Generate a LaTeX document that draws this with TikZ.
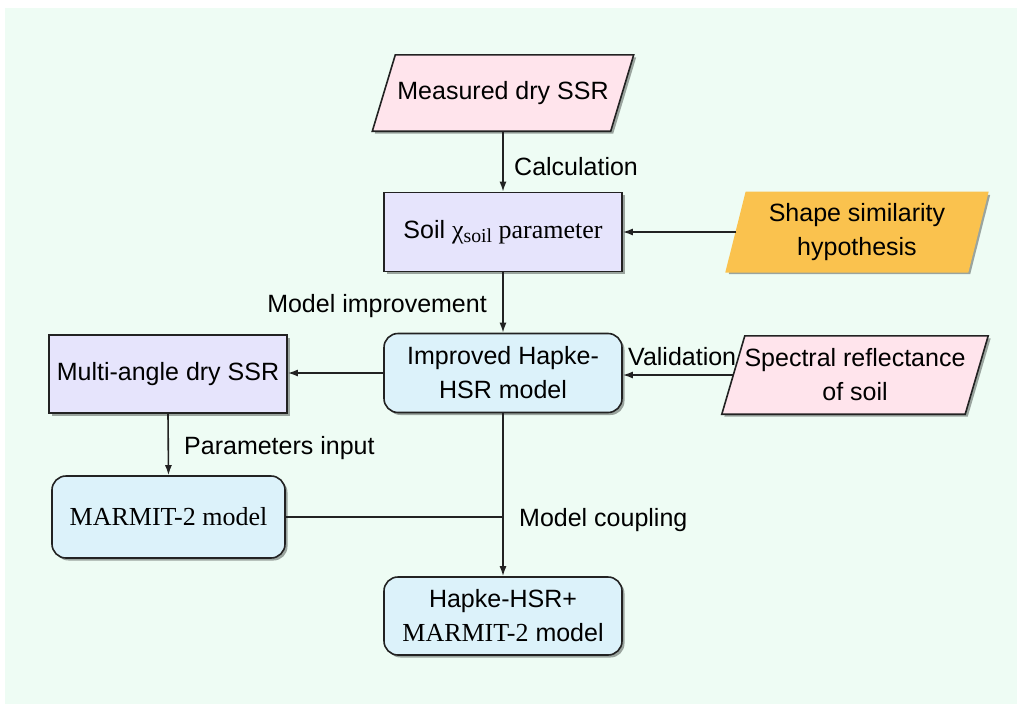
\documentclass[tikz,border=0pt]{standalone}
\usepackage{fontspec}
\setmainfont{Liberation Sans}
\newfontfamily\tnr{Liberation Serif}[Scale=1.04]
\usetikzlibrary{arrows.meta,shadows,calc}
\pgfdeclarelayer{bg}
\pgfdeclarelayer{back}
\pgfsetlayers{bg,back,main}
\definecolor{mint}{RGB}{238,252,244}
\definecolor{pinkf}{RGB}{255,228,236}
\definecolor{lav}{RGB}{230,228,252}
\definecolor{lblue}{RGB}{220,242,250}
\definecolor{orangef}{RGB}{250,194,78}
\definecolor{linec}{RGB}{34,34,34}
\tikzset{
  shad/.style={drop shadow={shadow xshift=2.5pt,shadow yshift=-2.5pt,opacity=0.35,fill=black}},
  box/.style={draw=linec, line width=1.6pt, minimum width=238pt, minimum height=79pt, inner sep=0pt, align=center, shad},
  sqbox/.style={box, fill=lav},
  rbox/.style={box, fill=lblue, rounded corners=14pt},
  pnode/.style={inner sep=0pt, align=center},
  lbl/.style={inner sep=0pt},
  arr/.style={line width=1.6pt, draw=linec, -{Latex[length=10pt,width=7pt]}},
  plain/.style={line width=1.6pt, draw=linec},
}
\newcommand\paraShape[4]{%
  \begin{pgfonlayer}{back}
    \path[fill=#3, draw=#4, line width=1.6pt, shad]
      ($(#1.south west)+(-#2,0)$) -- ($(#1.south east)+(-#2,0)$) --
      ($(#1.north east)+(#2,0)$) -- ($(#1.north west)+(#2,0)$) -- cycle;
  \end{pgfonlayer}}
\newcommand\serifpart[1]{\begingroup\tnr #1\endgroup}
\begin{document}
\begin{tikzpicture}[x=1pt,y=-1pt,font=\fontsize{25}{34}\selectfont]
\useasboundingbox (0,0) rectangle (1017,704);
\begin{pgfonlayer}{bg}
  \fill[mint] (5,8) rectangle (1017,704);
\end{pgfonlayer}

% nodes
\node[pnode, minimum width=238pt, minimum height=76pt] (meas) at (503,93) {Measured dry SSR};
\node[sqbox] (soil) at (503,232) {Soil \serifpart{χ\raisebox{-0.35ex}{\fontsize{19}{19}\selectfont soil} parameter}};
\node[pnode, minimum width=241pt, minimum height=79pt] (shape) at (857,232) {Shape similarity\\hypothesis};
\node[rbox] (imp) at (503,373) {Improved Hapke-\\HSR model};
\node[pnode, minimum width=243pt, minimum height=78pt] (spec) at (855,375) {Spectral reflectance\\of soil};
\node[sqbox, minimum height=78pt] (multi) at (168,374) {Multi-angle dry SSR};
\node[rbox, minimum width=233pt, minimum height=82pt] (marm) at (168.5,517) {\serifpart{MARMIT-2 model}};
\node[rbox, minimum height=78pt] (hap) at (503,616) {Hapke-HSR+\\\serifpart{MARMIT-2} model};

\paraShape{meas}{11.5}{pinkf}{linec}
\paraShape{shape}{10}{orangef}{orangef}
\paraShape{spec}{11.5}{pinkf}{linec}

% connectors
\draw[arr] (meas.south) -- (soil.north);
\draw[arr] (shape.west) -- (shape.west -| soil.east);
\draw[arr] (soil.south) -- (imp.north);
\draw[arr] (spec.west) -- (spec.west -| imp.east);
\draw[arr] (imp.west) -- (imp.west -| multi.east);
\draw[arr] (multi.south) -- (marm.north);
\draw[arr] (imp.south) -- (hap.north);
\coordinate (j) at (imp.south |- marm.east);
\draw[plain] (marm.east) -- (j);

% labels
\node[lbl, anchor=west] (lcalc) at (514,167) {Calculation};
\node[lbl, anchor=east] (limp) at (487,306) {Model improvement};
\node[lbl, anchor=south west] (lval) at (628,366) {Validation};
\node[lbl, anchor=west] (lpar) at (184,448) {Parameters input};
\node[lbl, anchor=west] (lcoup) at (519,520) {Model coupling};
\end{tikzpicture}
\end{document}
